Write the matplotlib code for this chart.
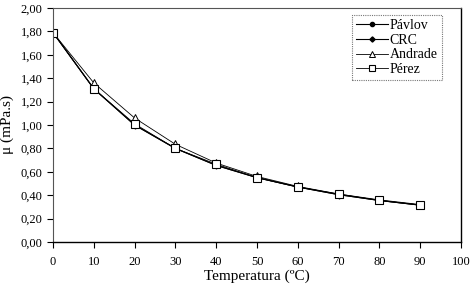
import matplotlib
matplotlib.use("Agg")
import matplotlib.pyplot as plt
from matplotlib.ticker import FuncFormatter, MultipleLocator

temperatura = [0, 10, 20, 30, 40, 50, 60, 70, 80, 90]
pavlov  = [1.79, 1.31, 1.00, 0.80, 0.655, 0.55, 0.47, 0.405, 0.355, 0.315]
crc     = [1.79, 1.31, 1.00, 0.80, 0.655, 0.55, 0.47, 0.405, 0.355, 0.315]
andrade = [1.79, 1.36, 1.06, 0.835, 0.675, 0.56, 0.475, 0.41, 0.36, 0.32]
perez   = [1.79, 1.31, 1.01, 0.80, 0.665, 0.55, 0.47, 0.41, 0.355, 0.315]

plt.rcParams['font.family'] = ['Liberation Serif', 'DejaVu Serif']

fig = plt.figure(figsize=(4.71, 2.91), dpi=100)
ax = fig.add_axes([53/471, 49/291, 408/471, 234/291])

ax.plot(temperatura, pavlov, color='black', lw=0.8, marker='o', ms=4, mfc='black', label='Pávlov')
ax.plot(temperatura, crc, color='black', lw=0.8, marker='D', ms=3.5, mfc='black', label='CRC')
ax.plot(temperatura, andrade, color='black', lw=0.6, marker='^', ms=6, mfc='white', mew=0.7, label='Andrade')
ax.plot(temperatura, perez, color='black', lw=0.6, marker='s', ms=6, mfc='white', mew=0.8, label='Pérez')

ax.set_xlim(0, 100)
ax.set_ylim(0, 2.0)
ax.xaxis.set_major_locator(MultipleLocator(10))
ax.yaxis.set_major_locator(MultipleLocator(0.2))
ax.yaxis.set_major_formatter(FuncFormatter(lambda v, p: f"{v:.2f}".replace('.', ',')))

for s in ['top', 'left']:
    ax.spines[s].set_linestyle((0, (1, 1)))
    ax.spines[s].set_color('#555555')
    ax.spines[s].set_linewidth(0.8)
for s in ['right', 'bottom']:
    ax.spines[s].set_color('black')
    ax.spines[s].set_linewidth(1.0)

ax.tick_params(axis='both', direction='out', length=4, width=0.8, labelsize=9, colors='black')
ax.tick_params(axis='x', pad=6)
ax.set_xlabel('Temperatura (ºC)', fontsize=11, labelpad=1)
ax.set_ylabel('μ (mPa.s)', fontsize=11, labelpad=5)

leg = ax.legend(loc='upper left', bbox_to_anchor=(299/408, 1 - 7/234), fontsize=10,
                frameon=True, fancybox=False, handlelength=2.3, handletextpad=0.1,
                labelspacing=0.12, borderpad=0.3, borderaxespad=0, markerscale=0.75)
leg.get_frame().set_edgecolor('#555555')
leg.get_frame().set_linestyle((0, (1, 1)))
leg.get_frame().set_linewidth(0.8)

fig.savefig('out.png', dpi=100)
